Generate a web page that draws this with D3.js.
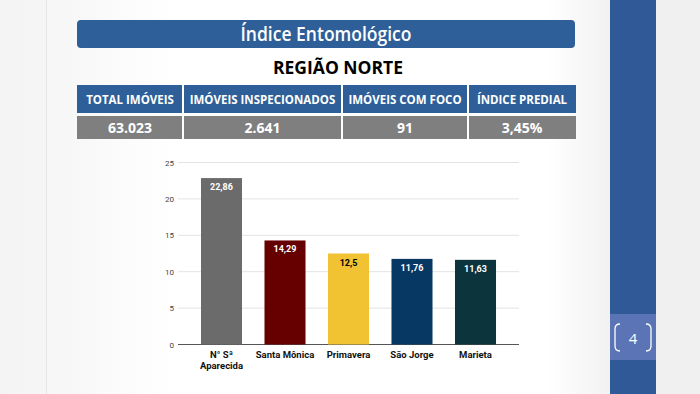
<!DOCTYPE html>
<html lang="pt">
<head>
<meta charset="utf-8">
<title>Índice Entomológico</title>
<script src="https://d3js.org/d3.v7.min.js"></script>
<style>
  body { margin: 0; overflow: hidden; }
  svg { display: block; }
</style>
</head>
<body>
<div id="chart"></div>
<script>
// data
var categories = ["N° Sª|Aparecida", "Santa Mônica", "Primavera", "São Jorge", "Marieta"];
var values = [22.86, 14.29, 12.5, 11.76, 11.63];
var valueLabels = ["22,86", "14,29", "12,5", "11,76", "11,63"];
var barColors = ["#6b6b6b", "#660000", "#f1c232", "#073763", "#0c343d"];
var yTicks = [0, 5, 10, 15, 20, 25];
var tableHeaders = ["TOTAL IMÓVEIS", "IMÓVEIS INSPECIONADOS", "IMÓVEIS COM FOCO", "ÍNDICE PREDIAL"];
var tableValues = ["63.023", "2.641", "91", "3,45%"];
var colEdges = [77, 183, 342, 468, 576];

var W = 700, H = 394;
var svg = d3.select("#chart").append("svg").attr("width", W).attr("height", H);

// slide background
var defs = svg.append("defs");
var bg = defs.append("linearGradient").attr("id", "bg").attr("x1", 0).attr("x2", 1);
bg.append("stop").attr("offset", 0).attr("stop-color", "#f3f3f3");
bg.append("stop").attr("offset", 0.07).attr("stop-color", "#f6f6f6");
bg.append("stop").attr("offset", 0.25).attr("stop-color", "#ffffff");
bg.append("stop").attr("offset", 0.78).attr("stop-color", "#ffffff");
bg.append("stop").attr("offset", 0.87).attr("stop-color", "#f2f2f2");
svg.append("rect").attr("width", W).attr("height", H).attr("fill", "url(#bg)");
svg.append("line").attr("x1", 46.5).attr("x2", 46.5).attr("y1", 0).attr("y2", H)
  .attr("stroke", "#e6e6e6");

// right side bar
svg.append("rect").attr("x", 656).attr("y", 0).attr("width", 44).attr("height", H).attr("fill", "#f0f0f0");
svg.append("rect").attr("x", 610).attr("y", 0).attr("width", 46).attr("height", H).attr("fill", "#2f5a97");
svg.append("rect").attr("x", 610).attr("y", 314).attr("width", 46).attr("height", 46).attr("fill", "#5b74b6");
svg.append("path").attr("d", "M620,324 Q615,324 615,329 L615,346 Q615,351 620,351")
  .attr("fill", "none").attr("stroke", "#fff").attr("stroke-width", 1.3);
svg.append("path").attr("d", "M646,324 Q651,324 651,329 L651,346 Q651,351 646,351")
  .attr("fill", "none").attr("stroke", "#fff").attr("stroke-width", 1.3);
svg.append("text").attr("x", 633).attr("y", 344).attr("text-anchor", "middle")
  .attr("font-family", "Open Sans, sans-serif").attr("font-size", 15).attr("fill", "#fff").text("4");

// title banner
svg.append("rect").attr("x", 77).attr("y", 20).attr("width", 498).attr("height", 28).attr("rx", 4)
  .attr("fill", "#2e5f98");
svg.append("text").attr("x", 326).attr("y", 41).attr("text-anchor", "middle")
  .attr("font-family", "Open Sans, sans-serif").attr("font-size", 19.5).attr("font-weight", 600)
  .attr("textLength", 171).attr("lengthAdjust", "spacingAndGlyphs")
  .attr("fill", "#fff").text("Índice Entomológico");

svg.append("text").attr("x", 338).attr("y", 74).attr("text-anchor", "middle")
  .attr("font-family", "Open Sans, sans-serif").attr("font-size", 17.5).attr("font-weight", 700)
  .attr("fill", "#000").text("REGIÃO NORTE");

// table
var table = svg.append("g");
tableHeaders.forEach(function(h, i) {
  var x0 = colEdges[i], x1 = colEdges[i + 1];
  var left = x0 + (i ? 1 : 0), w = x1 - x0 - (i ? 1 : 0) - (i < 3 ? 1 : 0);
  table.append("rect").attr("x", left).attr("y", 85).attr("width", w).attr("height", 28)
    .attr("fill", "#2e5f98");
  table.append("rect").attr("x", left).attr("y", 116).attr("width", w).attr("height", 23)
    .attr("fill", "#7f7f7f");
  table.append("text").attr("x", (x0 + x1) / 2).attr("y", 104).attr("text-anchor", "middle")
    .attr("font-family", "Open Sans, sans-serif").attr("font-size", 11.5).attr("font-weight", 700)
    .attr("fill", "#fff").text(h);
  table.append("text").attr("x", (x0 + x1) / 2).attr("y", 133).attr("text-anchor", "middle")
    .attr("font-family", "Open Sans, sans-serif").attr("font-size", 14).attr("font-weight", 700)
    .attr("fill", "#fff").text(tableValues[i]);
});

// bar chart
var x = d3.scaleBand().domain(categories).range([178, 519]).paddingInner(0.354).paddingOuter(0.362);
var y = d3.scaleLinear().domain([0, 25]).range([344.5, 162.5]);

var g = svg.append("g");
g.selectAll(".grid").data(yTicks).enter().append("line")
  .attr("x1", 178).attr("x2", 519)
  .attr("y1", function(d) { return y(d); }).attr("y2", function(d) { return y(d); })
  .attr("stroke", function(d) { return d === 0 ? "#555" : "#e3e3e3"; })
  .attr("stroke-width", 1);

var yAxis = g.append("g").attr("transform", "translate(178,0)")
  .call(d3.axisLeft(y).tickValues(yTicks).tickSize(0).tickPadding(4));
yAxis.select(".domain").remove();
yAxis.selectAll("text").attr("font-family", "Roboto, sans-serif").attr("font-size", 8).attr("fill", "#444");

g.selectAll(".bar").data(values).enter().append("rect")
  .attr("x", function(d, i) { return x(categories[i]); })
  .attr("width", x.bandwidth())
  .attr("y", function(d) { return y(d); })
  .attr("height", function(d) { return y(0) - y(d); })
  .attr("fill", function(d, i) { return barColors[i]; });

g.selectAll(".val").data(values).enter().append("text")
  .attr("x", function(d, i) { return x(categories[i]) + x.bandwidth() / 2; })
  .attr("y", function(d) { return y(d) + 12; })
  .attr("text-anchor", "middle")
  .attr("font-family", "Roboto, sans-serif").attr("font-size", 9).attr("font-weight", 700)
  .attr("fill", function(d, i) { return i === 2 ? "#000" : "#fff"; })
  .text(function(d, i) { return valueLabels[i]; });

var xl = g.selectAll(".cat").data(categories).enter().append("text")
  .attr("x", function(d) { return x(d) + x.bandwidth() / 2; })
  .attr("y", 358)
  .attr("text-anchor", "middle")
  .attr("font-family", "Roboto, sans-serif").attr("font-size", 9.5).attr("font-weight", 700)
  .attr("fill", "#111");
xl.selectAll("tspan").data(function(d) { return d.split("|"); }).enter().append("tspan")
  .attr("x", function() { var p = d3.select(this.parentNode).datum(); return x(p) + x.bandwidth() / 2; })
  .attr("dy", function(d, i) { return i ? 11 : 0; })
  .text(function(d) { return d; });
</script>
</body>
</html>
